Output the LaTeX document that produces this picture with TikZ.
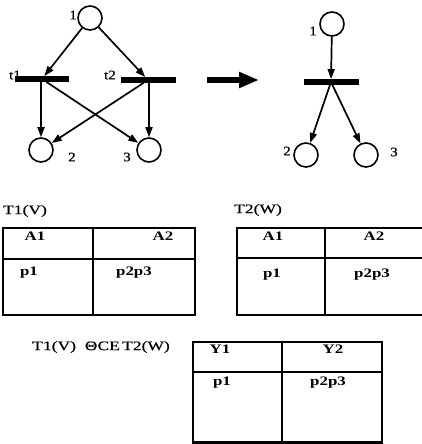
\documentclass[tikz,border=0pt]{standalone}
\usepackage{fontspec}
\setmainfont{Liberation Serif}
\newfontfamily\widefont[FakeStretch=1.35,FakeBold=0.6]{Liberation Serif}
\newfontfamily\cellfont[FakeStretch=1.3]{Liberation Serif Bold}
\newfontfamily\netfont[FakeStretch=1.15,FakeBold=0.6]{Liberation Serif}
\usetikzlibrary{arrows.meta}
\begin{document}
\begin{tikzpicture}[x=1pt,y=-1pt,
  place/.style={draw,circle,line width=1.6pt,minimum size=24pt,inner sep=0pt},
  trans/.style={fill=black,inner sep=0pt,minimum height=5.5pt},
  arc/.style={line width=1.7pt,-{Triangle[length=10pt,width=7pt]}},
  lbl/.style={font=\netfont\fontsize{13}{13}\selectfont,inner sep=0pt},
  tlbl/.style={font=\widefont\fontsize{13}{13}\selectfont,inner sep=0pt},
  cell/.style={font=\cellfont\fontsize{13}{13}\selectfont,inner sep=0pt},
  frame/.style={line width=2.6pt},
  rule/.style={line width=1.6pt}]
\useasboundingbox (0,0) rectangle (422,444);

% ---- net with two transitions ----
\node[place] (p1) at (90,18) {};
\node[place] (p2) at (41,150) {};
\node[place] (p3) at (149,150) {};
\node[trans,minimum width=54pt] (t1) at (42,79) {};
\node[trans,minimum width=55pt] (t2) at (148,80) {};
\node[lbl] at (73,15) {1};
\node[lbl] at (15,75) {t1};
\node[lbl] at (110,75) {t2};
\node[lbl] at (72,157) {2};
\node[lbl] at (127,157) {3};
\draw[arc] (p1) -- (t1);
\draw[arc] (p1) -- (t2);
\draw[arc] (t1.south -| p2) -- (p2);
\draw[arc] (t1) -- (p3);
\draw[arc] (t2.south -| p3) -- (p3);
\draw[arc] (t2) -- (p2);

% ---- reduction arrow ----
\coordinate (ra) at (207,80);
\coordinate (rb) at (259,80);
\draw[line width=5.5pt,-{Triangle[length=20pt,width=15pt]}] (ra) -- (rb);

% ---- merged net ----
\node[place] (q1) at (332,24) {};
\node[place] (q2) at (306,155) {};
\node[place] (q3) at (366,155) {};
\node[trans,minimum width=55pt] (u) at (331,82) {};
\node[lbl] at (313,31) {1};
\node[lbl] at (287,151) {2};
\node[lbl] at (394,152) {3};
\draw[arc] (q1) -- (u);
\draw[arc] (u) -- (q2);
\draw[arc] (u) -- (q3);

% ---- table T1(V) ----
\node[tlbl] (n1) at (25,211) {T1(V)};
\draw[frame] (3,228) rectangle (195,315);
\draw[rule] (3,259) -- (195,259);
\draw[rule] (93,228) -- (93,315);
\node[cell] (a11) at (35,236) {A1};
\node[cell] (a12) at (163,236) {A2};
\node[cell] (v11) at (29,273) {p1};
\node[cell] (v12) at (134,273) {p2p3};

% ---- table T2(W) ----
\node[tlbl] (n2) at (258,210) {T2(W)};
\draw[frame] (424,228) -- (237,228) -- (237,315) -- (424,315);
\draw[rule] (237,258) -- (424,258);
\draw[rule] (325,228) -- (325,315);
\node[cell] (a21) at (273,236) {A1};
\node[cell] (a22) at (374,236) {A2};
\node[cell] (v21) at (272,275) {p1};
\node[cell] (v22) at (372,275) {p2p3};

% ---- result table ----
\node[tlbl] (n3) at (101,347) {T1(V)\ \ ΘCE\,T2(W)};
\draw[frame] (193,342) rectangle (382,442.5);
\draw[rule] (193,372) -- (382,372);
\draw[rule] (282,342) -- (282,442.5);
\node[cell] (y1) at (220,349) {Y1};
\node[cell] (y2) at (333,349) {Y2};
\node[cell] (w1) at (222,383) {p1};
\node[cell] (w2) at (328,383) {p2p3};
\end{tikzpicture}
\end{document}
